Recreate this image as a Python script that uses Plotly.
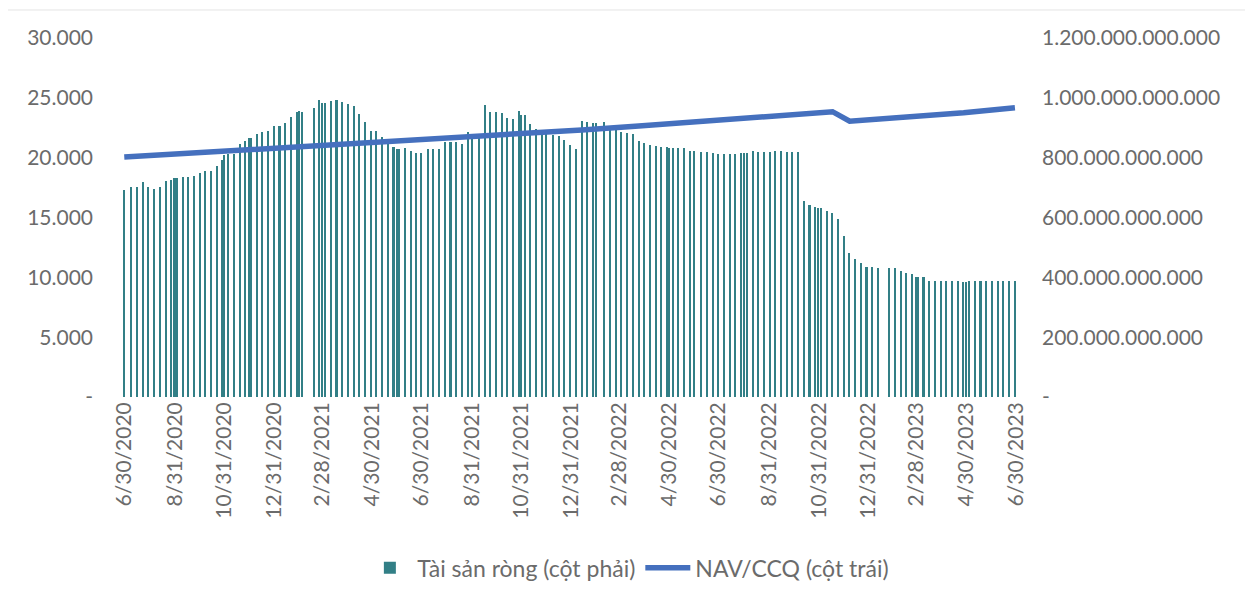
import plotly.graph_objects as go

# ---------------- data ----------------
bar_dates = [
    "2020-06-30", "2020-07-09", "2020-07-16", "2020-07-23", "2020-07-30", "2020-08-06", "2020-08-13",
    "2020-08-20", "2020-08-27", "2020-08-31", "2020-09-03", "2020-09-10", "2020-09-17", "2020-09-24",
    "2020-10-01", "2020-10-08", "2020-10-15", "2020-10-22", "2020-10-29", "2020-10-31", "2020-11-05",
    "2020-11-12", "2020-11-19", "2020-11-26", "2020-11-30", "2020-12-03", "2020-12-10", "2020-12-17",
    "2020-12-24", "2020-12-31",
    "2021-01-07", "2021-01-14", "2021-01-21", "2021-01-28", "2021-01-31", "2021-02-04", "2021-02-18",
    "2021-02-25", "2021-02-28", "2021-03-04", "2021-03-11", "2021-03-18", "2021-03-25", "2021-04-01",
    "2021-04-08", "2021-04-15", "2021-04-22", "2021-04-29", "2021-05-06", "2021-05-13", "2021-05-20",
    "2021-05-27", "2021-05-31", "2021-06-03", "2021-06-10", "2021-06-17", "2021-06-24", "2021-06-30",
    "2021-07-08", "2021-07-15", "2021-07-22", "2021-07-29", "2021-08-05", "2021-08-12", "2021-08-19",
    "2021-08-26", "2021-08-31", "2021-09-09", "2021-09-16", "2021-09-23", "2021-09-30", "2021-10-07",
    "2021-10-14", "2021-10-21", "2021-10-28", "2021-10-31", "2021-11-04", "2021-11-11", "2021-11-18",
    "2021-11-25", "2021-11-30", "2021-12-09", "2021-12-16", "2021-12-23", "2021-12-30",
    "2022-01-06", "2022-01-13", "2022-01-20", "2022-01-27", "2022-01-31", "2022-02-10", "2022-02-17",
    "2022-02-24", "2022-03-03", "2022-03-10", "2022-03-17", "2022-03-24", "2022-03-31", "2022-04-07",
    "2022-04-14", "2022-04-21", "2022-04-28", "2022-04-30", "2022-05-05", "2022-05-12", "2022-05-19",
    "2022-05-26", "2022-05-31", "2022-06-09", "2022-06-16", "2022-06-23", "2022-06-30", "2022-07-07",
    "2022-07-14", "2022-07-21", "2022-07-28", "2022-07-31", "2022-08-04", "2022-08-11", "2022-08-18",
    "2022-08-25", "2022-09-01", "2022-09-08", "2022-09-15", "2022-09-22", "2022-09-29", "2022-10-06",
    "2022-10-13", "2022-10-20", "2022-10-27", "2022-10-31", "2022-11-03", "2022-11-10", "2022-11-17",
    "2022-11-24", "2022-12-01", "2022-12-08", "2022-12-15", "2022-12-22", "2022-12-29",
    "2023-01-05", "2023-01-12", "2023-01-26", "2023-02-02", "2023-02-09", "2023-02-16", "2023-02-23",
    "2023-02-28", "2023-03-02", "2023-03-09", "2023-03-16", "2023-03-23", "2023-03-30", "2023-04-06",
    "2023-04-13", "2023-04-20", "2023-04-27", "2023-04-30", "2023-05-04", "2023-05-11", "2023-05-18",
    "2023-05-25", "2023-06-01", "2023-06-08", "2023-06-15", "2023-06-22", "2023-06-29",
]

# Net assets, billions VND (right axis)
net_assets_bn = [
    692, 701, 701, 718, 701, 696, 703,
    723, 725, 733, 733, 736, 736, 740,
    750, 756, 756, 772, 792, 809, 812,
    812, 845, 856, 867, 867, 878, 887,
    890, 906,
    906, 915, 935, 952, 957, 954, 967,
    993, 984, 984, 991, 993, 985, 981,
    974, 946, 918, 889, 889, 870, 856,
    837, 828, 828, 831, 823, 817, 814,
    829, 829, 829, 853, 853, 853, 846,
    887, 879, 880, 976, 952, 954, 948,
    934, 928, 956, 943, 943, 911, 895,
    880, 880, 876, 873, 859, 842,
    828, 924, 918, 915, 915, 918, 898,
    892, 887, 881, 878, 857, 848, 842,
    839, 837, 837, 831, 831, 833, 833,
    822, 822, 820, 820, 817, 812, 812,
    812, 812, 817, 817, 817, 823, 820,
    820, 820, 822, 822, 820, 818, 818,
    656, 642, 636, 631, 631, 622, 614,
    594, 538, 480, 460, 447, 435,
    433, 432, 430, 430, 422, 415, 410,
    402, 402, 400, 389, 389, 389, 389,
    389, 389, 385, 385, 389, 389, 389,
    389, 389, 389, 389, 389, 389,
]

# NAV per fund certificate (left axis), read at selected dates
nav_dates = ["2020-06-30", "2020-11-05", "2021-03-25", "2021-08-19", "2022-01-13", "2022-03-24",
             "2022-06-02", "2022-08-18", "2022-11-17", "2022-12-08", "2023-02-02", "2023-04-27",
             "2023-06-29"]
nav_values = [20050, 20557, 21058, 21670, 22312, 22646,
              23006, 23373, 23842, 23050, 23290, 23758,
              24180]

tick_dates = ["2020-06-30", "2020-08-31", "2020-10-31", "2020-12-31", "2021-02-28", "2021-04-30",
              "2021-06-30", "2021-08-31", "2021-10-31", "2021-12-31", "2022-02-28", "2022-04-30",
              "2022-06-30", "2022-08-31", "2022-10-31", "2022-12-31", "2023-02-28", "2023-04-30",
              "2023-06-30"]
tick_labels = ["6/30/2020", "8/31/2020", "10/31/2020", "12/31/2020", "2/28/2021", "4/30/2021",
               "6/30/2021", "8/31/2021", "10/31/2021", "12/31/2021", "2/28/2022", "4/30/2022",
               "6/30/2022", "8/31/2022", "10/31/2022", "12/31/2022", "2/28/2023", "4/30/2023",
               "6/30/2023"]

left_ticks = [0, 5000, 10000, 15000, 20000, 25000, 30000]
right_ticks = [0, 200e9, 400e9, 600e9, 800e9, 1000e9, 1200e9]


def vn_fmt(v):
    v = int(round(v))
    return "-" if v == 0 else f"{v:,}".replace(",", ".")


# ---------------- figure ----------------
# (the page body has an 8px default margin, so the figure is 8px smaller
#  and margins are reduced accordingly)
FONT = "Lato, 'Open Sans', sans-serif"
GRAY = "#6b6b6b"
BAR_COLOR = "#327f86"
LINE_COLOR = "#4570be"
TICK_SIZE = 21

fig = go.Figure()

fig.add_trace(go.Bar(
    x=bar_dates,
    y=[v * 1e9 for v in net_assets_bn],
    name="Tài sản ròng (cột phải)",
    marker=dict(color=BAR_COLOR, line=dict(width=0)),
    width=1.9 * 86400000,
    yaxis="y",
))

fig.add_trace(go.Scatter(
    x=nav_dates,
    y=nav_values,
    name="NAV/CCQ (cột trái)",
    mode="lines",
    line=dict(color=LINE_COLOR, width=5.5),
    yaxis="y2",
))

fig.update_layout(
    width=1245, height=593,
    margin=dict(l=113, r=234, t=30, b=204),
    paper_bgcolor="white", plot_bgcolor="white",
    font=dict(family=FONT, size=TICK_SIZE, color=GRAY),
    bargap=0,
    showlegend=True,
    legend=dict(
        orientation="h", x=0.565, y=-0.476, xanchor="center", yanchor="middle",
        font=dict(family=FONT, size=23, color=GRAY),
        itemwidth=45, traceorder="normal",
    ),
    xaxis=dict(
        type="date",
        range=["2020-06-26", "2023-07-04"],
        tickmode="array", tickvals=tick_dates, ticktext=tick_labels,
        tickangle=-90, showgrid=False, zeroline=False, showline=False,
        ticks="", tickfont=dict(family=FONT, size=TICK_SIZE, color=GRAY),
    ),
    yaxis=dict(
        side="right", range=[0, 1.2e12],
        tickmode="array", tickvals=right_ticks, ticktext=[vn_fmt(v) for v in right_ticks],
        showgrid=False, zeroline=False, showline=False, ticks="",
        ticklabelstandoff=22,
        tickfont=dict(family=FONT, size=TICK_SIZE, color=GRAY),
    ),
    yaxis2=dict(
        side="left", overlaying="y", range=[0, 30000],
        tickmode="array", tickvals=left_ticks, ticktext=[vn_fmt(v) for v in left_ticks],
        showgrid=False, zeroline=False, showline=False, ticks="",
        ticklabelstandoff=27,
        tickfont=dict(family=FONT, size=TICK_SIZE, color=GRAY),
    ),
    shapes=[dict(
        type="rect", xref="paper", yref="paper",
        x0=-0.138, x1=1.2556, y0=-0.7, y1=1.078,
        line=dict(color="#e4e4e4", width=1), fillcolor="rgba(0,0,0,0)", layer="below",
    )],
)

fig.write_html("out.html")
